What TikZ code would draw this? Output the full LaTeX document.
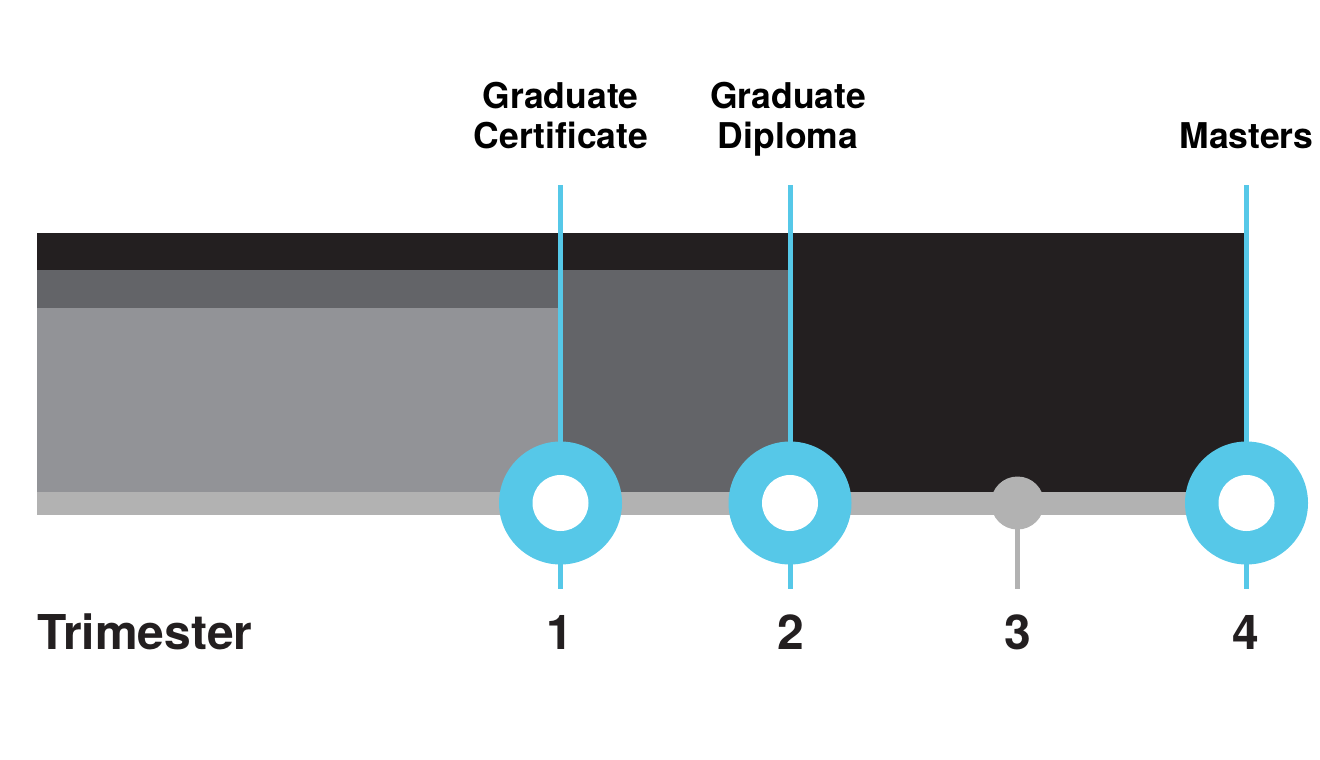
\documentclass[tikz,border=0pt]{standalone}
\usepackage{fontspec}
\setmainfont{TeX Gyre Heros}
\definecolor{ink}{HTML}{231F20}
\definecolor{darkgr}{HTML}{636468}
\definecolor{midgr}{HTML}{929397}
\definecolor{strip}{HTML}{B2B2B2}
\definecolor{blu}{HTML}{56C8E8}
\tikzset{
  lbl/.style={font=\bfseries\fontsize{35.5}{40}\selectfont, text=black, anchor=base, inner sep=0pt},
  big/.style={font=\bfseries\fontsize{48}{52}\selectfont, text=ink, anchor=base, inner sep=0pt},
  stem/.style={line width=5pt, blu},
  graystem/.style={line width=5pt, strip},
  ring/.style={circle, fill=blu, minimum size=123pt, inner sep=0pt},
  hole/.style={circle, fill=white, minimum size=56pt, inner sep=0pt},
  dot/.style={circle, fill=strip, minimum size=53pt, inner sep=0pt}
}
\begin{document}
\begin{tikzpicture}[x=1pt,y=-1pt]
\useasboundingbox (0,0) rectangle (1320,760);
% bars
\fill[ink] (37,233) rectangle (1244,492);
\fill[darkgr] (37,270) rectangle (788,492);
\fill[midgr] (37,308) rectangle (559,492);
\fill[strip] (37,492) rectangle (1246,515);
% coordinates
\coordinate (t1) at (560.5,185); \coordinate (b1) at (560.5,589);
\coordinate (t2) at (790,185);   \coordinate (b2) at (790,589);
\coordinate (t4) at (1246.5,185); \coordinate (b4) at (1246.5,589);
\coordinate (b3) at (1017.5,589);
% stems
\draw[stem] (t1) -- (b1);
\draw[stem] (t2) -- (b2);
\draw[stem] (t4) -- (b4);
% milestone markers
\node[ring] (r1) at (560.5,503) {};
\node[hole] (h1) at (r1) {};
\node[ring] (r2) at (790,503) {};
\node[hole] (h2) at (r2) {};
\node[ring] (r4) at (1246.5,503) {};
\node[hole] (h4) at (r4) {};
\node[dot] (d3) at (1017.5,503) {};
\draw[graystem] (d3.center) -- (b3);
% top labels
\node[lbl] (gc1) at (560.5,108) {Graduate};
\node[lbl] (gc2) at (561,148) {Certificate};
\node[lbl] (gd1) at (788,108) {Graduate};
\node[lbl] (gd2) at (788,148) {Diploma};
\node[lbl] (ms) at (1246.5,148) {Masters};
% bottom labels
\node[big, anchor=base west] (tri) at (37,649) {Trimester};
\node[big] (n1) at (560,649) {1};
\node[big] (n2) at (791,649) {2};
\node[big] (n3) at (1018,649) {3};
\node[big] (n4) at (1246,649) {4};
\end{tikzpicture}
\end{document}
